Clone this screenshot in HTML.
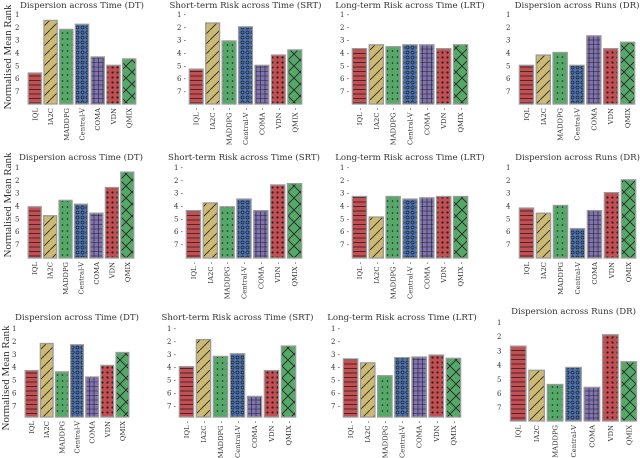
<!DOCTYPE html>
<html><head><meta charset="utf-8"><style>
body{margin:0;background:#fff}
svg{display:block;font-family:"DejaVu Serif","Liberation Serif",serif}
</style></head><body>
<svg id="c" width="640" height="458" viewBox="0 0 640 458">
<defs>
<pattern id="p0" width="6" height="4.5" patternUnits="userSpaceOnUse"><rect width="6" height="4.5" fill="#c44e52"/><line x1="0" y1="4" x2="6" y2="4" stroke="#222" stroke-width="0.8"/></pattern>
<pattern id="p1" width="10" height="10" patternUnits="userSpaceOnUse"><rect width="10" height="10" fill="#ccb974"/><line x1="0" y1="10" x2="10" y2="0" stroke="#222" stroke-width="0.8"/></pattern>
<pattern id="p2" width="5" height="6" patternUnits="userSpaceOnUse"><rect width="5" height="6" fill="#55a868"/><circle cx="2.5" cy="3" r="0.8" fill="#222"/></pattern>
<pattern id="p3" width="5" height="5" patternUnits="userSpaceOnUse"><rect width="5" height="5" fill="#4c72b0"/><circle cx="2.5" cy="2.5" r="1.5" fill="none" stroke="#222" stroke-width="0.7"/></pattern>
<pattern id="p4" width="4.5" height="4.5" patternUnits="userSpaceOnUse"><rect width="4.5" height="4.5" fill="#8172b2"/><path d="M0 4H4.5M4 0V4.5" stroke="#222" stroke-width="0.6"/></pattern>
<pattern id="p5" width="5" height="5" patternUnits="userSpaceOnUse"><rect width="5" height="5" fill="#c44e52"/><circle cx="2.5" cy="2.5" r="1.1" fill="#222"/></pattern>
<pattern id="p6" width="12" height="12" patternUnits="userSpaceOnUse"><rect width="12" height="12" fill="#55a868"/><path d="M0 0L12 12M12 0L0 12" stroke="#222" stroke-width="0.8"/></pattern>
</defs>
<text transform="translate(11,57) rotate(-90)" text-anchor="middle" font-size="11" fill="#333" font-family="Liberation Serif">Normalised Mean Rank</text>
<text transform="translate(11,205) rotate(-90)" text-anchor="middle" font-size="11" fill="#333" font-family="Liberation Serif">Normalised Mean Rank</text>
<text transform="translate(9,378) rotate(-90)" text-anchor="middle" font-size="11" fill="#333" font-family="Liberation Serif">Normalised Mean Rank</text>
</svg>
<script>
const categories=["IQL","IA2C","MADDPG","Central-V","COMA","VDN","QMIX"];
const rankTicks=[1,2,3,4,5,6,7];
const titles=["Dispersion across Time (DT)","Short-term Risk across Time (SRT)","Long-term Risk across Time (LRT)","Dispersion across Runs (DR)"];
const r1DT=[5.6,1.5,2.2,1.8,4.35,5.0,4.5];
const r1SRT=[5.3,1.7,3.1,2.0,5.0,4.2,3.8];
const r1LRT=[3.7,3.4,3.55,3.4,3.4,3.7,3.4];
const r1DR=[5.0,4.2,4.0,5.0,2.7,3.7,3.2];
const r2DT=[4.1,4.8,3.6,3.9,4.6,2.6,1.4];
const r2SRT=[4.4,3.8,4.1,3.5,4.4,2.4,2.3];
const r2LRT=[3.3,4.9,3.3,3.5,3.4,3.3,3.3];
const r2DR=[4.2,4.6,4.0,5.8,4.4,3.0,2.0];
const r3DT=[4.3,2.2,4.4,2.3,4.8,3.9,2.9];
const r3SRT=[4.0,1.9,3.2,3.0,6.3,4.3,2.4];
const r3LRT=[3.4,3.7,4.7,3.3,3.25,3.1,3.35];
const r3DR=[2.7,4.4,5.4,4.2,5.6,1.9,3.8];

const svg=document.getElementById('c');
const NS="http://www.w3.org/2000/svg";
function mk(tag,attrs){const e=document.createElementNS(NS,tag);for(const k in attrs)e.setAttribute(k,attrs[k]);return e;}

function panel(id,vals,title,x0,x1,yTop,yStep,yBot,titleY,ticksDash){
  const g=mk('g',{});
  
  
  svg.appendChild(g);
  const y=v=>yTop+(v-1)*yStep;
  const slot=(x1-x0)/categories.length;
  const bw=slot*0.84;
  const t=mk('text',{x:(x0+x1)/2,y:titleY,'text-anchor':'middle','font-size':'8.6',fill:'#333'});
  t.textContent=title;
  
  
  g.appendChild(t);
  rankTicks.forEach(r=>{
    const l=mk('text',{x:x0-(ticksDash?11:12),y:y(r)+3,'text-anchor':'start','font-size':'7',fill:'#333'});
    l.textContent=r+(ticksDash?' -':'');
    
    
    g.appendChild(l);
  });
  categories.forEach((c,i)=>{
    const cx=x0+slot*(i+0.5);
    const top=y(vals[i]);
    const b=mk('rect',{x:cx-bw/2,y:top,width:bw,height:Math.max(0,yBot-top),fill:'url(#p'+i+')',stroke:'#9a9a9a','stroke-width':'1.3'});
    
    
    g.appendChild(b);
    const l=mk('text',{transform:`translate(${cx+2.5},${yBot+4}) rotate(-90)`,'text-anchor':'end','font-size':'6.8',fill:'#333'});
    l.textContent=c+(ticksDash?' -':'');
    
    
    g.appendChild(l);
  });
}
panel('panel-r1-dt',r1DT,titles[0],27,137,14,12.83,104,8,false);
panel('panel-r1-srt',r1SRT,titles[1],188,303,14,12.83,104,8,true);
panel('panel-r1-lrt',r1LRT,titles[2],351,469,14,12.83,104,8,true);
panel('panel-r1-dr',r1DR,titles[3],518,636,14,12.83,104,8,false);
panel('panel-r2-dt',r2DT,titles[0],27,135,167,12.83,258,160,false);
panel('panel-r2-srt',r2SRT,titles[1],185,303,167,12.83,258,160,true);
panel('panel-r2-lrt',r2LRT,titles[2],351,469,167,12.83,258,160,true);
panel('panel-r2-dr',r2DR,titles[3],518,637,167,12.83,258,160,false);
panel('panel-r3-dt',r3DT,titles[0],24,130,328,12.9,417,320,false);
panel('panel-r3-srt',r3SRT,titles[1],178,297,328,12.9,417,320,true);
panel('panel-r3-lrt',r3LRT,titles[2],342,462,328,12.9,417,320,true);
panel('panel-r3-dr',r3DR,titles[3],509,638,322,14.2,421,314,false);
</script>
</body></html>
